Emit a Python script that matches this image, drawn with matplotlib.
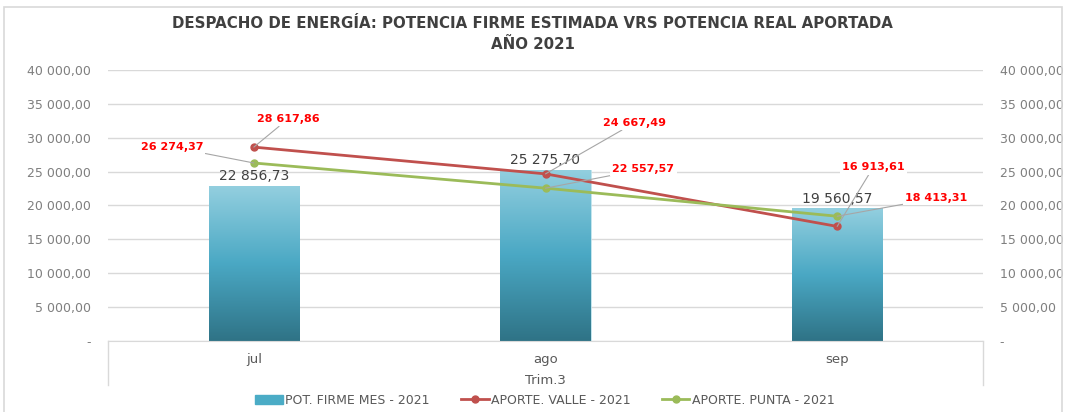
import matplotlib.pyplot as plt
import numpy as np
from matplotlib.patches import Rectangle
from matplotlib.lines import Line2D
from matplotlib.colors import LinearSegmentedColormap

meses = ['jul', 'ago', 'sep']
pot_firme = [22856.73, 25275.70, 19560.57]
aporte_valle = [28617.86, 24667.49, 16913.61]
aporte_punta = [26274.37, 22557.57, 18413.31]

# label offsets in pixels (dx, dy) for the red data labels
off_valle = [(34, 28), (89, 51), (36, 59)]
off_punta = [(-82, 16), (98, 19), (99, 18)]


def fmt(v):
    if v == 0:
        return '-'
    s = '{:,.2f}'.format(v)
    return s.replace(',', ' ').replace('.', ',')


plt.rcParams['font.family'] = ['DejaVu Sans']

fig = plt.figure(figsize=(10.65, 4.12), dpi=100)
ax = fig.add_axes([108 / 1065, 1 - 341 / 412, (983 - 108) / 1065, (341 - 70) / 412])

# outer chart border
fig.patches.append(Rectangle((4 / 1065, -0.05), 1058 / 1065, 1.05 - 7 / 412,
                             transform=fig.transFigure, fill=False,
                             edgecolor='#d9d9d9', lw=1.2))

x = np.arange(len(meses))
bars = ax.bar(x, pot_firme, width=0.31, color='#4bacc6', zorder=2)

cmap = LinearSegmentedColormap.from_list('g', ['#2f7386', '#4aa8c4', '#93cfdf'])
grad = np.linspace(0, 1, 256).reshape(-1, 1)
for b in bars:
    b.set_facecolor('none')
    b.set_edgecolor('#b8e0ea')
    b.set_linewidth(0.6)
    im = ax.imshow(grad, cmap=cmap, origin='lower', aspect='auto',
                   extent=[b.get_x(), b.get_x() + b.get_width(), 0, b.get_height()],
                   zorder=2)
    im.set_clip_path(b)

ax.plot(x, aporte_valle, color='#c0504d', lw=2, marker='o', ms=5, zorder=4)
ax.plot(x, aporte_punta, color='#9bbb59', lw=2, marker='o', ms=5, zorder=4)

for i, v in enumerate(pot_firme):
    ax.annotate(fmt(v), (x[i], v), xytext=(0, 2), textcoords='offset points',
                ha='center', va='bottom', fontsize=10, color='#404040', zorder=5)

for series, offs in [(aporte_valle, off_valle), (aporte_punta, off_punta)]:
    for i, v in enumerate(series):
        ax.annotate(fmt(v), (x[i], v), xytext=offs[i], textcoords='offset pixels',
                    ha='center', va='center', fontsize=8, fontweight='bold',
                    color='#ff0000', zorder=6,
                    bbox=dict(boxstyle='square,pad=0.2', fc='white', ec='none'),
                    arrowprops=dict(arrowstyle='-', color='#a6a6a6', lw=0.8,
                                    shrinkA=0, shrinkB=0))

ax.set_ylim(0, 40000)
ax.set_xlim(-0.5, 2.5)
ax.set_yticks(np.arange(0, 40001, 5000))
ax.set_yticklabels([fmt(t) for t in np.arange(0, 40001, 5000)])
ax.tick_params(axis='y', length=0, labelsize=9, labelcolor='#7f7f7f', pad=12,
               labelright=True)
ax.grid(axis='y', color='#d9d9d9', lw=1, zorder=0)
ax.set_axisbelow(True)
for s in ['top', 'left', 'right']:
    ax.spines[s].set_visible(False)
ax.spines['bottom'].set_color('#d9d9d9')

ax.set_xticks(x)
ax.set_xticklabels(meses)
ax.tick_params(axis='x', length=0, labelsize=9.5, labelcolor='#595959', pad=9)

# category box below axis
box_h = (385 - 341) / 271
for xa in [0, 1]:
    ax.add_line(Line2D([xa, xa], [0, -box_h], transform=ax.transAxes,
                       color='#d9d9d9', lw=1, clip_on=False))
ax.text(0.5, -(380 - 341) / 271, 'Trim.3', transform=ax.transAxes,
        ha='center', va='center', fontsize=9.5, color='#595959')

fig.text(0.5, 1 - 34 / 412, 'DESPACHO DE ENERGÍA: POTENCIA FIRME ESTIMADA VRS POTENCIA REAL APORTADA\nAÑO 2021',
         ha='center', va='center', fontsize=10.8, fontweight='bold', color='#404040',
         linespacing=1.45)

handles = [Rectangle((0, 0), 1, 1, color='#4bacc6'),
           Line2D([], [], color='#c0504d', lw=2, marker='o', ms=5),
           Line2D([], [], color='#9bbb59', lw=2, marker='o', ms=5)]
leg = fig.legend(handles, ['POT. FIRME MES - 2021', 'APORTE. VALLE - 2021', 'APORTE. PUNTA - 2021'],
                 loc='center', bbox_to_anchor=(545 / 1065, 1 - 400 / 412), ncol=3,
                 frameon=False, fontsize=9, labelcolor='#595959', handlelength=2.2,
                 handletextpad=0.2, columnspacing=2.5)

plt.savefig('out.png', dpi=100)
